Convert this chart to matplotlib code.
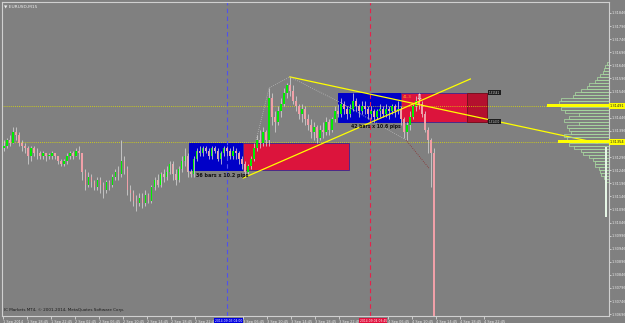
import numpy as np
import matplotlib.pyplot as plt
from matplotlib.patches import Rectangle

###--- EURUSD M30-ish candles, prices in pips above 1.3000
###--- bar i starts at 1 Sep 15:00 + 30 min * i  (x axis = hours since 1 Sep 00:00)
open_first = 133
close_pips = [134, 136, 135, 139, 138, 135, 134, 133, 130, 133,
              131, 131, 130, 131, 130, 130, 131, 130, 128, 127,
              128, 130, 131, 130, 132, 131, 124, 119, 122, 120,
              118, 121, 119, 117, 120, 119, 122, 124, 123, 128,
              125, 117, 116, 113, 112, 114, 112, 115, 113, 118,
              121, 119, 123, 122, 124, 127, 123, 121, 125, 128,
              130, 124, 123, 129, 132, 131, 133, 132, 130, 133,
              132, 129, 131, 133, 132, 130, 132, 131, 129, 127,
              124, 126, 129, 133, 136, 135, 139, 136, 152, 145,
              143, 147, 150, 154, 157, 155, 151, 149, 146, 148,
              144, 142, 139, 141, 137, 140, 139, 143, 140, 144,
              147, 146, 150, 148, 146, 148, 151, 149, 147, 149,
              148, 146, 147, 145, 147, 148, 146, 148, 147, 149,
              147, 148, 144, 139, 142, 145, 149, 151, 150, 146,
              140, 136, 131, 64]
high_pips = [136, 137, 138, 141, 141, 139, 136, 135, 134, 134,
             134, 133, 132, 132, 131, 131, 132, 131, 130, 129,
             129, 131, 132, 132, 133, 134, 131, 125, 124, 123,
             121, 122, 122, 120, 121, 121, 123, 125, 126, 136,
             130, 126, 119, 117, 115, 116, 116, 117, 116, 119,
             122, 123, 124, 125, 126, 128, 128, 125, 126, 130,
             133, 131, 125, 130, 133, 134, 134, 134, 133, 134,
             134, 133, 132, 134, 134, 133, 134, 133, 132, 130,
             128, 127, 130, 135, 138, 140, 141, 140, 156, 154,
             147, 149, 152, 156, 158, 160, 157, 153, 150, 150,
             149, 146, 144, 143, 142, 142, 143, 145, 144, 145,
             149, 150, 152, 151, 149, 150, 154, 152, 150, 151,
             151, 149, 149, 148, 148, 150, 149, 150, 149, 150,
             150, 151, 149, 145, 143, 147, 150, 153, 154, 151,
             147, 141, 137, 133]
low_pips = [132, 133, 134, 135, 136, 134, 132, 131, 127, 128,
            130, 129, 129, 129, 128, 129, 129, 129, 127, 126,
            126, 127, 129, 129, 130, 129, 121, 117, 118, 118,
            117, 117, 116, 114, 116, 117, 118, 121, 121, 122,
            123, 115, 113, 111, 109, 111, 110, 111, 112, 112,
            117, 118, 118, 120, 121, 123, 121, 119, 120, 124,
            126, 122, 122, 122, 128, 130, 130, 131, 129, 129,
            131, 128, 127, 130, 130, 129, 129, 129, 127, 125,
            122, 123, 125, 128, 132, 133, 134, 134, 134, 142,
            139, 142, 145, 149, 152, 153, 150, 147, 144, 143,
            142, 140, 137, 136, 135, 136, 137, 138, 138, 139,
            143, 145, 145, 146, 144, 145, 147, 147, 145, 146,
            146, 144, 144, 143, 144, 145, 145, 145, 144, 146,
            145, 146, 142, 137, 136, 140, 144, 147, 148, 145,
            139, 131, 118, 60]

###--- price scale (right) and time scale (bottom)
ytick_pips = [184.6 - 5 * k for k in range(24) if k != 7]   # k=7 hidden under the yellow tag
hl_pips = [149.1, 135.4]                     # yellow dotted levels
xtick_hours = [14.75, 18.75, 22.75, 26.75, 30.75, 34.75, 38.75, 42.75, 46.75,
               54.75, 58.75, 62.75, 66.75, 70.75, 78.75, 82.75, 86.75, 90.75, 94.75]
xtick_text = ['1 Sep 2014', '1 Sep 18:45', '1 Sep 22:45', '2 Sep 02:45', '2 Sep 06:45',
              '2 Sep 10:45', '2 Sep 14:45', '2 Sep 18:45', '2 Sep 22:45', '3 Sep 06:45',
              '3 Sep 10:45', '3 Sep 14:45', '3 Sep 18:45', '3 Sep 22:45', '4 Sep 06:45',
              '4 Sep 10:45', '4 Sep 14:45', '4 Sep 18:45', '4 Sep 22:45']

###--- objects drawn on the chart
box1_blue = (45.75, 54.75, 124.7, 135.0)     # t0, t1, low, high
box1_red = (54.75, 72.25, 124.7, 135.0)
box2_blue = (70.5, 81.0, 143.0, 154.1)
box2_red = (81.0, 95.25, 143.0, 154.1)
box2_dark = (92.0, 95.25, 143.0, 154.1)
trend_up = ([54.75, 92.5], [121.6, 159.4])
trend_dn = ([62.5, 113.6], [160.2, 135.0])
zig_grey = ([56.9, 59.05, 62.5, 71.0, 81.8], [136.1, 156.0, 160.2, 150.3, 136.1])
zig_red = ([81.8, 85.6], [136.1, 125.4])
vline_blue = 52.0
vline_red = 75.75

###--- volume profile rows (top to bottom) and their counts
prof_top = 165.5
prof_step = 1.15
prof_counts = [2, 4, 5, 6, 9, 12, 14, 20, 22, 28,
               34, 36, 48, 50, 62, 48, 44, 30, 40, 45,
               30, 42, 40, 38, 45, 42, 51, 40, 35, 28,
               26, 20, 16, 14, 14, 10, 9, 8, 5, 3]
prof_hot = [14, 26]

BG = '#808080'
TXT = '#ececec'


def pr(p):
    return 1.3 + np.asarray(p, dtype=float) / 1e4


def main():
    fig = plt.figure(figsize=(6.25, 3.23), dpi=100, facecolor=BG)
    ax = fig.add_axes([2 / 625, 7 / 323, 607 / 625, 314 / 323])
    ax.set_facecolor(BG)
    ax.set_xlim(14.65, 115.55)
    ax.set_ylim(pr(68.9), pr(188.8))

    # boxes
    for b, fc, ec in [(box1_blue, '#0000c8', '#0000c8'), (box1_red, '#dc143c', '#4a2a8a'),
                      (box2_blue, '#0000c8', '#0000c8'), (box2_red, '#dc143c', '#4a2a8a'),
                      (box2_dark, '#b4102e', '#7a1020')]:
        ax.add_patch(Rectangle((b[0], pr(b[2])), b[1] - b[0], pr(b[3]) - pr(b[2]),
                               facecolor=fc, edgecolor=ec, lw=0.7, zorder=1))

    # candles
    c = np.array(close_pips, float)
    hi = np.array(high_pips, float)
    lo = np.array(low_pips, float)
    o = np.r_[open_first, c[:-1]]
    t = 15 + 0.5 * np.arange(len(c))
    up = c >= o
    ax.vlines(t, pr(lo), pr(hi), colors='#d4d4d4', lw=0.55, zorder=3)
    body = np.maximum(np.abs(c - o), 0.25)
    ax.bar(t[up], pr(body[up]) - 1.3, bottom=pr(o[up]), width=0.27,
           color='#00ee00', lw=0, zorder=4)
    ax.bar(t[~up], pr(body[~up]) - 1.3, bottom=pr(c[~up]), width=0.27,
           color='#f0a0a8', lw=0, zorder=4)

    # trend lines and zigzag
    ax.plot(trend_up[0], pr(trend_up[1]), color='#ffff00', lw=0.9, zorder=5)
    ax.plot(trend_dn[0], pr(trend_dn[1]), color='#ffff00', lw=0.9, zorder=5)
    ax.plot(zig_grey[0], pr(zig_grey[1]), color='#b8b8b8', lw=0.6, ls=(0, (1, 1.5)), zorder=5)
    ax.plot(zig_red[0], pr(zig_red[1]), color='#8a3030', lw=0.6, ls=(0, (1, 1.5)), zorder=5)

    # horizontal dotted levels
    ax.hlines(pr(hl_pips[0]), 14.65, 105.3, colors='#e0e000', lw=0.6, ls=(0, (1, 1.5)), zorder=2)
    ax.hlines(pr(hl_pips[1]), 14.65, 107.1, colors='#e0e000', lw=0.6, ls=(0, (1, 1.5)), zorder=2)

    # vertical lines with their time tags
    ax.axvline(vline_blue, color='#5050f0', lw=0.8, ls=(0, (4, 3)), zorder=2)
    ax.axvline(vline_red, color='#e8204a', lw=0.8, ls=(0, (4, 3)), zorder=2)
    xt = ax.get_xaxis_transform()
    ax.text(vline_blue + 0.3, -0.009, '2014.09.03 04:00', transform=xt, ha='center', va='top',
            fontsize=2.2, color='white', bbox=dict(fc='#0000e0', ec='none', pad=0.4),
            clip_on=False, zorder=8)
    ax.text(vline_red + 0.6, -0.009, '2014.09.04 03:45', transform=xt, ha='center', va='top',
            fontsize=2.2, color='white', bbox=dict(fc='#e0103c', ec='none', pad=0.4),
            clip_on=False, zorder=8)

    # texts on the chart
    ax.text(46.9, pr(122.4), '36 bars x 10.2 pips', fontsize=3.5, fontweight='bold',
            color='#101010', va='center', zorder=6)
    ax.text(72.65, pr(141.1), '42 bars x 10.6 pips', fontsize=3.3, fontweight='bold',
            color='#101010', va='center', zorder=6)
    ax.text(81.3, pr(152.4), '41.3', fontsize=3, color='#ffa020', va='center', zorder=6)
    ax.text(83.9, pr(152.0), '\u21e9', fontsize=6, color='white', ha='center', va='center', zorder=6)
    for p in box2_red[2:]:
        ax.text(95.6, pr(p), '1.31' + str(int(p * 10))[-3:], fontsize=2, color='#cfcfcf',
                va='center', bbox=dict(fc='#1e1e1e', ec='none', pad=0.4), zorder=6)
    ax.text(0.004, 0.993, '\u25bc EURUSD,M15', transform=ax.transAxes, fontsize=3.2,
            color=TXT, va='top')
    ax.text(0.004, 0.012, 'IC Markets MT4, \u00a9 2001-2014, MetaQuotes Software Corp.',
            transform=ax.transAxes, fontsize=3, color='#1a1a1a', va='bottom')

    # axes styling
    for s in ax.spines.values():
        s.set_color('#d0d0d0')
        s.set_linewidth(0.8)
    ax.yaxis.tick_right()
    ax.set_yticks(pr(ytick_pips))
    ax.set_yticklabels(['%.5f' % v for v in pr(ytick_pips)])
    ax.set_xticks(xtick_hours)
    ax.set_xticklabels(xtick_text)
    for lb in ax.get_xticklabels():
        lb.set_ha('left')
    ax.tick_params(axis='x', labelsize=2.5, colors=TXT, length=2, width=0.5, pad=0.8)
    ax.tick_params(axis='y', labelsize=2.5, colors=TXT, length=1.5, width=0.5, pad=0.6)
    for p in hl_pips:
        ax.text(1.0015, pr(p), '%.5f' % pr(p), transform=ax.get_yaxis_transform(),
                fontsize=2.5, color='#202020', va='center', ha='left', clip_on=False,
                bbox=dict(fc='#ffff00', ec='none', pad=0.5), zorder=7)

    # volume profile at the right edge
    axp = fig.add_axes([500 / 625, 7 / 323, 109 / 625, 314 / 323])
    axp.set_xlim(109, 0)
    axp.set_ylim(pr(68.9), pr(188.8))
    axp.axis('off')
    levels = pr(prof_top - prof_step * np.arange(len(prof_counts)))
    hgt = prof_step / 1e4
    for i, (lv, n) in enumerate(zip(levels, prof_counts)):
        if i in prof_hot:
            axp.barh(lv, n, height=hgt, color='#ffff00', lw=0)
        else:
            axp.barh(lv, n, height=hgt, fill=False, edgecolor='#a8d8a0', lw=0.55)
    axp.add_patch(Rectangle((2.2, pr(106.6)), 2.2, pr(133.4) - pr(106.6),
                            facecolor='#e6f6e6', edgecolor='none'))

    fig.savefig('out.png', dpi=100, facecolor=BG)


if __name__ == '__main__':
    main()
